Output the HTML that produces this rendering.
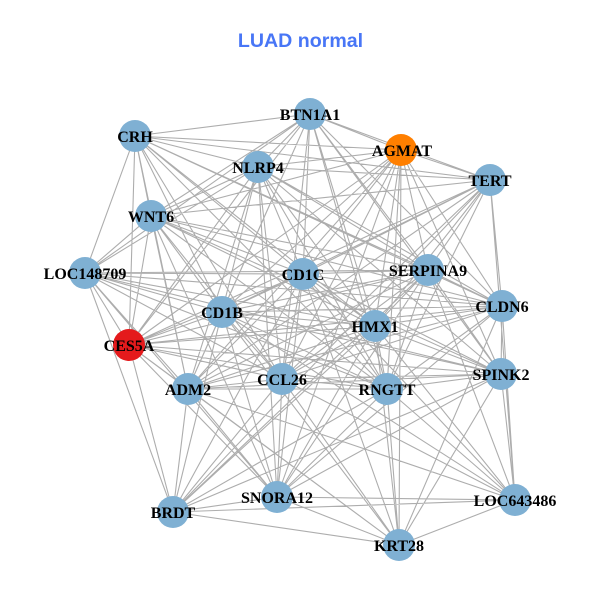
<!DOCTYPE html>
<html><head><meta charset="utf-8"><style>html,body{margin:0;padding:0;background:#fff}svg{display:block}
.n{font-family:"Liberation Serif",serif;font-weight:bold;font-size:16px;text-anchor:middle;fill:#000}
.t{font-family:"Liberation Sans",sans-serif;font-weight:bold;font-size:19.6px;text-anchor:middle;fill:#4876f6}</style></head>
<body><svg width="600" height="600" viewBox="0 0 600 600" xmlns="http://www.w3.org/2000/svg">
<rect width="600" height="600" fill="#fff"/>
<path fill="none" stroke="#adadad" stroke-width="1.1" d="
M310 114L401 150M310 114L490 180M310 114L135 136M310 114L258 167M310 114L151 216M310 114L85 273M310 114L303 274M310 114L428 270M310 114L502 306M310 114L222 312M310 114L375 326M310 114L129 345M310 114L188 389M310 114L282 379M310 114L387 389M310 114L501 374
M401 150L490 180M401 150L135 136M401 150L258 167M401 150L151 216M401 150L303 274M401 150L428 270M401 150L502 306M401 150L222 312M401 150L375 326M401 150L129 345M401 150L188 389M401 150L282 379M401 150L387 389M401 150L501 374M401 150L277 497M401 150L399 545
M490 180L135 136M490 180L258 167M490 180L151 216M490 180L303 274M490 180L428 270M490 180L502 306M490 180L222 312M490 180L375 326M490 180L129 345M490 180L188 389M490 180L282 379M490 180L387 389M490 180L173 512M490 180L515 500
M135 136L258 167M135 136L151 216M135 136L85 273M135 136L303 274M135 136L428 270M135 136L502 306M135 136L222 312M135 136L375 326M135 136L129 345M135 136L188 389M135 136L282 379M135 136L387 389
M258 167L151 216M258 167L85 273M258 167L303 274M258 167L428 270M258 167L502 306M258 167L222 312M258 167L375 326M258 167L129 345M258 167L188 389M258 167L282 379M258 167L387 389M258 167L501 374M258 167L277 497
M151 216L85 273M151 216L303 274M151 216L428 270M151 216L502 306M151 216L222 312M151 216L375 326M151 216L129 345M151 216L188 389M151 216L282 379M151 216L387 389M151 216L501 374M151 216L277 497
M85 273L303 274M85 273L428 270M85 273L502 306M85 273L222 312M85 273L375 326M85 273L129 345M85 273L188 389M85 273L282 379M85 273L387 389M85 273L501 374M85 273L173 512M85 273L277 497
M303 274L428 270M303 274L502 306M303 274L222 312M303 274L375 326M303 274L129 345M303 274L188 389M303 274L282 379M303 274L387 389M303 274L501 374M303 274L173 512M303 274L277 497M303 274L515 500M303 274L399 545
M428 270L502 306M428 270L222 312M428 270L375 326M428 270L129 345M428 270L188 389M428 270L282 379M428 270L387 389M428 270L501 374M428 270L173 512M428 270L277 497M428 270L515 500
M502 306L222 312M502 306L375 326M502 306L129 345M502 306L188 389M502 306L282 379M502 306L387 389M502 306L501 374M502 306L277 497M502 306L515 500M502 306L399 545
M222 312L375 326M222 312L129 345M222 312L188 389M222 312L282 379M222 312L387 389M222 312L501 374M222 312L173 512M222 312L277 497M222 312L515 500M222 312L399 545
M375 326L129 345M375 326L188 389M375 326L282 379M375 326L387 389M375 326L501 374M375 326L173 512M375 326L277 497M375 326L515 500M375 326L399 545
M129 345L188 389M129 345L282 379M129 345L387 389M129 345L501 374M129 345L173 512M129 345L277 497M129 345L399 545
M188 389L282 379M188 389L387 389M188 389L501 374M188 389L173 512M188 389L277 497M188 389L515 500M188 389L399 545
M282 379L387 389M282 379L501 374M282 379L173 512M282 379L277 497M282 379L515 500M282 379L399 545
M387 389L501 374M387 389L173 512M387 389L277 497M387 389L515 500M387 389L399 545
M501 374L173 512M501 374L277 497M501 374L515 500M501 374L399 545
M173 512L277 497M173 512L515 500M173 512L399 545
M277 497L515 500M277 497L399 545
M515 500L399 545"/>
<g fill="#7fb0d3">
<circle cx="310" cy="114" r="16"/><circle cx="490" cy="180" r="16"/><circle cx="135" cy="136" r="16"/><circle cx="258" cy="167" r="16"/><circle cx="151" cy="216" r="16"/><circle cx="85" cy="273" r="16"/><circle cx="303" cy="274" r="16"/><circle cx="428" cy="270" r="16"/><circle cx="502" cy="306" r="16"/><circle cx="222" cy="312" r="16"/><circle cx="375" cy="326" r="16"/><circle cx="188" cy="389" r="16"/><circle cx="282" cy="379" r="16"/><circle cx="387" cy="389" r="16"/><circle cx="501" cy="374" r="16"/><circle cx="173" cy="512" r="16"/><circle cx="277" cy="497" r="16"/><circle cx="515" cy="500" r="16"/><circle cx="399" cy="545" r="16"/>
</g>
<circle cx="401" cy="150" r="16" fill="#ff7f00"/>
<circle cx="129" cy="345" r="16" fill="#e41a1c"/>
<text class="t" x="300.5" y="47">LUAD normal</text>
<text class="n" x="310" y="120">BTN1A1</text>
<text class="n" x="402" y="156">AGMAT</text>
<text class="n" x="490" y="186">TERT</text>
<text class="n" x="135" y="142">CRH</text>
<text class="n" x="258" y="173">NLRP4</text>
<text class="n" x="151" y="222">WNT6</text>
<text class="n" x="85" y="279">LOC148709</text>
<text class="n" x="303" y="280">CD1C</text>
<text class="n" x="428" y="276">SERPINA9</text>
<text class="n" x="502" y="312">CLDN6</text>
<text class="n" x="222" y="318">CD1B</text>
<text class="n" x="375" y="332">HMX1</text>
<text class="n" x="129" y="351">CES5A</text>
<text class="n" x="188" y="395">ADM2</text>
<text class="n" x="282" y="385">CCL26</text>
<text class="n" x="387" y="395">RNGTT</text>
<text class="n" x="501" y="380">SPINK2</text>
<text class="n" x="173" y="518">BRDT</text>
<text class="n" x="277" y="503">SNORA12</text>
<text class="n" x="515" y="506">LOC643486</text>
<text class="n" x="399" y="551">KRT28</text>
</svg></body></html>
